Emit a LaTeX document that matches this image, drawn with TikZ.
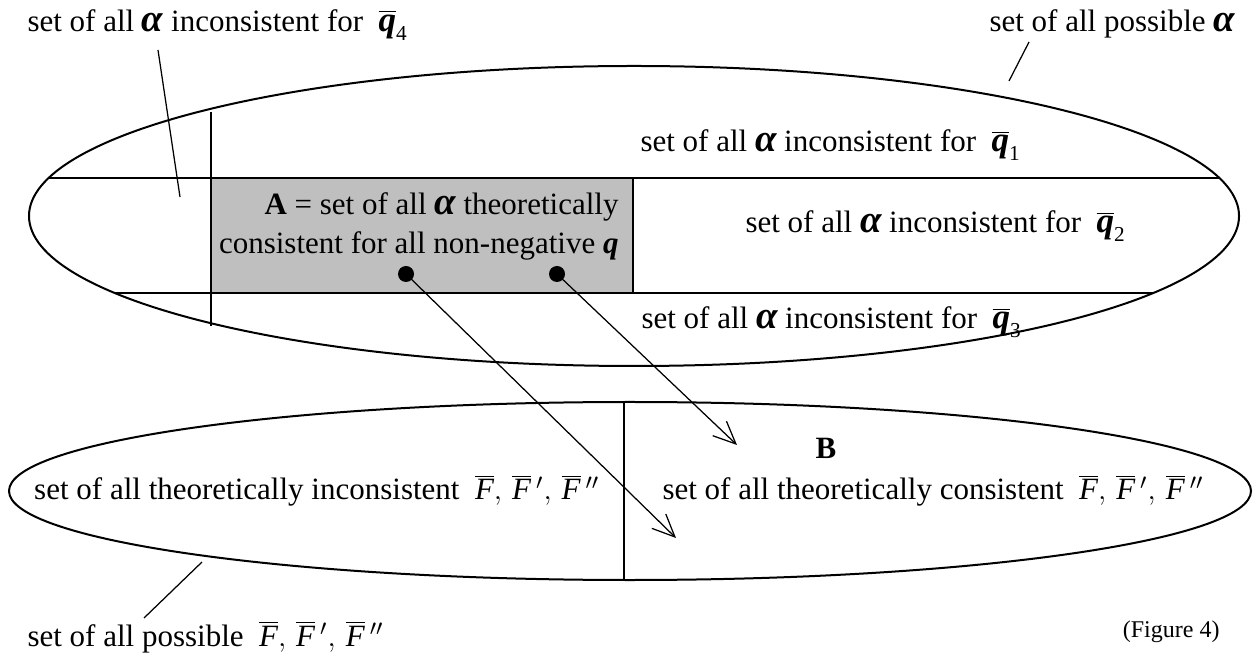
\documentclass[tikz,border=0pt]{standalone}
\usepackage{fontspec}
\setmainfont{Liberation Serif}
\usetikzlibrary{arrows.meta,shapes.geometric}

\newcommand{\balpha}{{\fontsize{15.5}{15.6}\selectfont\bfseries\itshape α}}
\newcommand{\qbar}[1]{$\overline{\mbox{\fontsize{14}{15.6}\selectfont\bfseries\itshape q}}_{\mbox{\fontsize{8.5}{8.5}\selectfont #1}}$}
\newcommand{\Fb}{\overline{\mbox{\itshape F}}}
\newcommand{\Fset}{$\Fb,\,\Fb\,',\,\Fb\,''$}

\begin{document}
\begin{tikzpicture}[
  x=0.4pt, y=-0.4pt,
  font=\fontsize{12.4}{15.6}\selectfont,
  every node/.style={inner sep=0pt},
  setring/.style={draw,ellipse,line width=0.8pt},
  part/.style={line width=0.8pt},
  pointer/.style={line width=0.5pt},
  map/.style={line width=0.5pt,-{Straight Barb[length=9pt,width=8pt]}},
  dot/.style={circle,fill,minimum size=6.4pt},
  lbl/.style={anchor=base west},
  abox/.style={draw,fill=gray!50,line width=0.8pt,
    minimum width=168.8pt,minimum height=46pt}]
\useasboundingbox (0,0) rectangle (1257,657);

% set of all alpha
\node[setring,minimum width=484pt,minimum height=120pt] (alpha) at (634,216) {};
\node[abox] (A) at (422,235.5) {};
\draw[part] (49,178) -- (1219,178);
\draw[part] (115,293) -- (1153,293);
\draw[part] (211,112) -- (211,326);
\node[anchor=east,align=right] (Atext) at (619,226)
  {\textbf{A} = set of all \balpha\ theoretically\\
   consistent for all non-negative \textbf{\textit{q}}};

\node[lbl] (q1) at (640,152) {set of all \balpha\ inconsistent for \ \qbar{1}};
\node[lbl] (q2) at (745,233) {set of all \balpha\ inconsistent for \ \qbar{2}};
\node[lbl] (q3) at (641,329) {set of all \balpha\ inconsistent for \ \qbar{3}};
\node[lbl] (q4) at (27,32) {set of all \balpha\ inconsistent for \ \qbar{4}};
\node[lbl] (alla) at (989,32) {set of all possible \balpha};

\coordinate (q4a) at (158,50);
\coordinate (q4b) at (180,197);
\draw[pointer] (q4a) -- (q4b);
\coordinate (allaa) at (1029,42);
\coordinate (allab) at (1009,81);
\draw[pointer] (allaa) -- (allab);

% set of all F
\node[setring,minimum width=496.8pt,minimum height=71.2pt] (F) at (630,491) {};
\draw[part] (624,402) -- (624,580);
\node[anchor=base east] (Fin) at (600,500)
  {set of all theoretically inconsistent \ \Fset};
\node[lbl] (Fcon) at (662,500)
  {set of all theoretically consistent \ \Fset};
\node (B) at (826,448) {\bfseries B};
\node[lbl] (allF) at (27,646) {set of all possible \ \Fset};
\coordinate (allFa) at (202,562);
\coordinate (allFb) at (144,618);
\draw[pointer] (allFa) -- (allFb);

% mapping A -> B
\node[dot] (d1) at (406,274) {};
\node[dot] (d2) at (557,274) {};
\coordinate (t1) at (676,538);
\coordinate (t2) at (737,445);
\draw[map] (d1.center) -- (t1);
\draw[map] (d2.center) -- (t2);

\node[anchor=base east] (fig) at (1220,637)
  {\fontsize{9.6}{11}\selectfont (Figure 4)};
\end{tikzpicture}
\end{document}
